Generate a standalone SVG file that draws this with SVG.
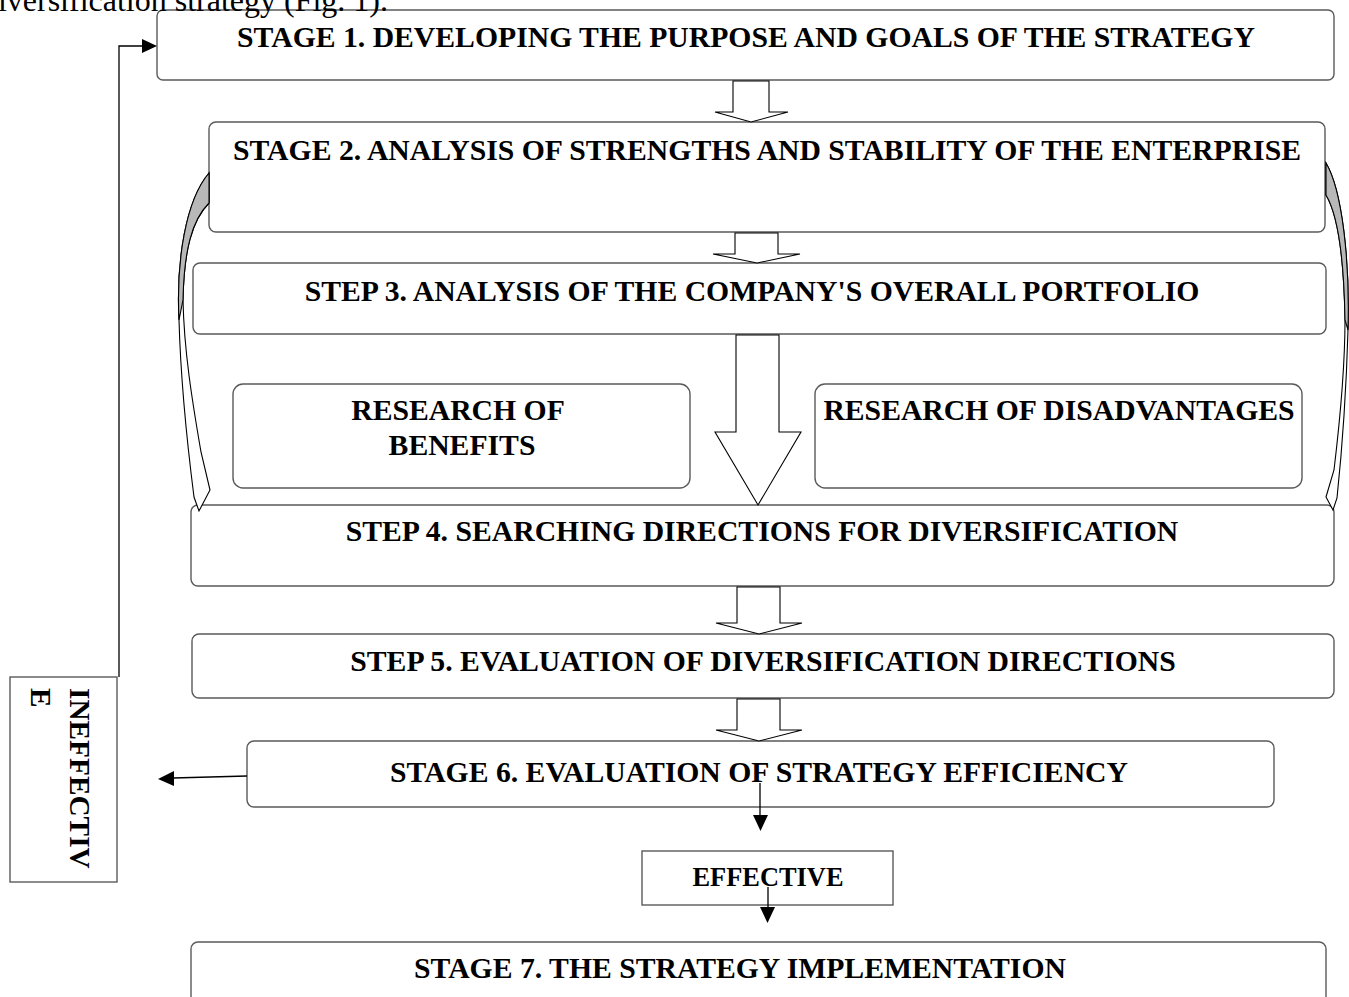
<svg xmlns="http://www.w3.org/2000/svg" width="1349" height="997" viewBox="0 0 1349 997">
<defs>
<style>
.box{fill:#fff;stroke:#5a5a5a;stroke-width:1.4}
.t{font-family:"Liberation Serif","Times New Roman",serif;font-weight:bold;font-size:29.7px;fill:#000;text-anchor:middle}
.cap{font-family:"Liberation Serif","Times New Roman",serif;font-size:32px;fill:#000;text-anchor:end}
.blk{fill:#fff;stroke:#000;stroke-width:1.1;stroke-linejoin:miter}
.ln{fill:none;stroke:#000;stroke-width:1.3}
.hd{fill:#000;stroke:none}
.crv{fill:#fff;stroke:#000;stroke-width:1.1}
.crvg{fill:#b8b8b8;stroke:#000;stroke-width:1.1}
</style>
</defs>
<rect width="1349" height="997" fill="#fff"/>

<g id="stage1">
<rect class="box" x="157" y="10" width="1177" height="70" rx="6"/>
<text class="t" x="746" y="47">STAGE 1. DEVELOPING THE PURPOSE AND GOALS OF THE STRATEGY</text>
</g>
<g id="stage2">
<rect class="box" x="209" y="122" width="1116" height="110" rx="7"/>
<text class="t" x="767" y="160">STAGE 2. ANALYSIS OF STRENGTHS AND STABILITY OF THE ENTERPRISE</text>
</g>
<g id="step3">
<rect class="box" x="193" y="263" width="1133" height="71" rx="7"/>
<text class="t" x="752" y="301">STEP 3. ANALYSIS OF THE COMPANY'S OVERALL PORTFOLIO</text>
</g>
<g id="benefits">
<rect class="box" x="233" y="384" width="457" height="104" rx="10"/>
<text class="t" x="458" y="420">RESEARCH OF</text>
<text class="t" x="462" y="455">BENEFITS</text>
</g>
<g id="disadvantages">
<rect class="box" x="815" y="384" width="487" height="104" rx="10"/>
<text class="t" x="1059" y="420">RESEARCH OF DISADVANTAGES</text>
</g>
<g id="step4">
<rect class="box" x="191" y="505" width="1143" height="81" rx="7"/>
<text class="t" x="762" y="541">STEP 4. SEARCHING DIRECTIONS FOR DIVERSIFICATION</text>
</g>
<g id="step5">
<rect class="box" x="192" y="634" width="1142" height="64" rx="7"/>
<text class="t" x="763" y="671">STEP 5. EVALUATION OF DIVERSIFICATION DIRECTIONS</text>
</g>
<g id="stage6">
<rect class="box" x="247" y="741" width="1027" height="66" rx="7"/>
<text class="t" x="759" y="782">STAGE 6. EVALUATION OF STRATEGY EFFICIENCY</text>
</g>
<g id="effective">
<rect class="box" x="642" y="851" width="251" height="54"/>
<text class="t" x="768" y="886" style="font-size:26.4px">EFFECTIVE</text>
</g>
<g id="ineffective">
<rect class="box" x="10" y="677" width="107" height="205"/>
<text class="t" style="text-anchor:start;font-size:29.3px" transform="translate(70,688) rotate(90)">INEFFECTIV</text>
<text class="t" style="text-anchor:start;font-size:29.3px" transform="translate(31,688) rotate(90)">E</text>
</g>
<g id="stage7">
<rect class="box" x="191" y="942" width="1135" height="80" rx="7"/>
<text class="t" x="740" y="978">STAGE 7. THE STRATEGY IMPLEMENTATION</text>
</g>

<g id="connectors">
<path class="blk" d="M733,81 H769 V112 H788 L751,122 L715,112 H733 Z"/>
<path class="blk" d="M735,233 H778 V254 H800 L757,263 L713,254 H735 Z"/>
<path class="blk" d="M736,335 H779 V432 H801 L758,505 L715,432 H736 Z"/>
<path class="blk" d="M737,587 H780 V623 H802 L759,634 L716,623 H737 Z"/>
<path class="blk" d="M737,699 H780 V730 H802 L759,741 L716,730 H737 Z"/>

<path class="crv" d="M209,173 C186,200 176,260 179,320 C181,390 188,450 194,497 L199,511 L210,490 L201,452 C192,400 184,350 183,300 C184,250 192,220 209,203 Z"/>
<path class="crvg" d="M209,173 C186,200 176,260 179,320 L183,300 C184,250 192,220 209,203 Z"/>

<path class="crv" d="M1326,163 C1342,190 1350,260 1348,330 C1346,400 1341,460 1337,498 L1333,510 L1326,497 L1334,470 C1340,420 1345,370 1345,320 C1344,260 1338,215 1326,195 Z"/>
<path class="crvg" d="M1326,163 C1342,190 1350,260 1348,330 L1345,320 C1344,260 1338,215 1326,195 Z"/>

<line class="ln" x1="760" y1="783" x2="760" y2="816"/>
<polygon class="hd" points="753,815 768,815 760.5,831"/>
<line class="ln" x1="768" y1="887" x2="768" y2="908"/>
<polygon class="hd" points="760,907 775,907 767.5,923"/>
<line class="ln" x1="247" y1="776" x2="173" y2="778"/>
<polygon class="hd" points="174,771 174,786 158,779"/>
<polyline class="ln" points="119,677 119,46 143,46"/>
<polygon class="hd" points="142,39 142,53 157,46"/>
</g>
<text class="cap" x="388" y="11">diversification strategy (Fig. 1).</text>
</svg>
